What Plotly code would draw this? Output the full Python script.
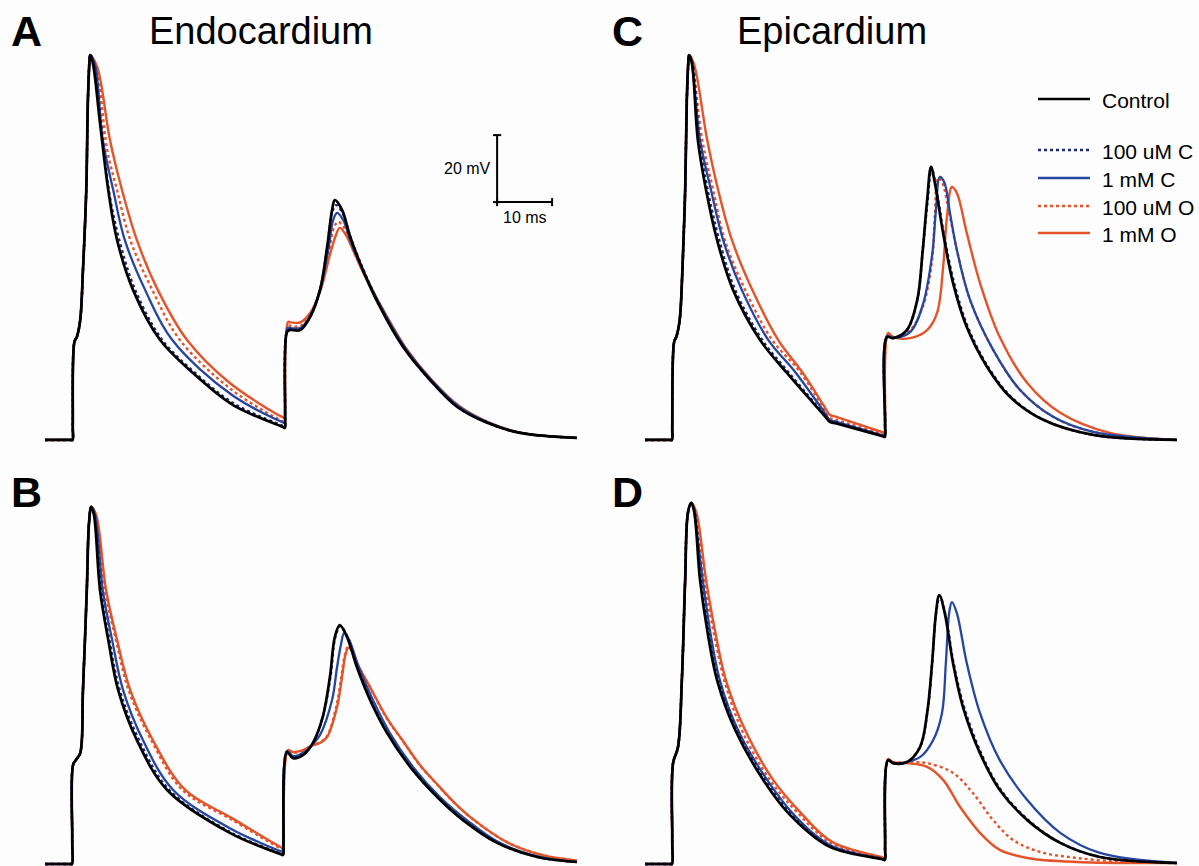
import plotly.graph_objects as go

# ---------------- data (time in ms, membrane potential in mV) ----------------
# Panel A : Endocardium, top
A_up_t = [0.0, 4.7, 5.0, 5.05, 5.35, 5.8, 6.4, 6.9, 7.5, 7.8, 8.1]
A_up_v = [-85.0, -85.0, -85.0, -80.8, -55.7, -54.2, -49.2, -34.3, -10.4, 16.5, 28.4]
A_ctl_t = [8.2, 8.7, 10.0, 11.5, 13.1, 16.0, 20.9, 26.9, 34.2, 43.2, 43.6, 43.65, 44.0, 44.5, 46.4, 48.2, 50.0, 51.3, 52.2, 52.7, 54.0, 55.5, 57.8, 60.9, 65.1, 70.0, 74.9, 80.4, 86.4, 96.7]
A_ctl_v = [29.9, 27.5, 9.6, -10.4, -25.3, -40.2, -55.1, -65.0, -74.6, -81.1, -81.4, -77.8, -52.8, -52.2, -52.2, -48.3, -40.2, -27.4, -16.3, -13.4, -16.3, -24.4, -34.3, -45.3, -57.2, -67.1, -75.1, -79.9, -82.9, -84.4]
A_bd_t = [8.3, 8.9, 10.2, 11.6, 13.5, 16.4, 21.3, 27.3, 34.2, 43.2, 43.6, 43.65, 44.0, 44.5, 46.4, 48.2, 50.0, 51.3, 52.2, 52.9, 54.0, 55.6, 58.0, 61.1, 65.2, 70.1, 75.0, 80.5, 86.4, 96.7]
A_bd_v = [29.9, 27.3, 9.6, -10.4, -25.3, -40.2, -55.1, -65.0, -74.0, -80.8, -81.1, -77.5, -52.5, -52.0, -52.0, -48.3, -40.2, -27.7, -17.2, -14.9, -16.9, -24.7, -34.6, -45.6, -57.4, -67.2, -75.1, -79.9, -82.9, -84.4]
A_bs_t = [8.2, 9.1, 10.5, 12.4, 14.5, 18.2, 23.1, 34.0, 43.2, 43.6, 43.65, 44.1, 44.6, 46.4, 48.2, 50.0, 51.5, 52.4, 53.1, 54.2, 55.8, 58.2, 61.3, 65.5, 70.4, 75.3, 80.7, 86.5, 96.7]
A_bs_v = [29.9, 26.9, 4.6, -10.4, -25.3, -40.2, -55.1, -71.6, -79.7, -79.9, -77.1, -51.6, -51.6, -51.6, -48.0, -40.2, -28.3, -19.3, -17.2, -19.3, -26.8, -35.7, -45.9, -57.5, -67.4, -75.1, -79.9, -82.9, -84.4]
A_od_t = [8.2, 9.3, 11.3, 13.1, 15.5, 19.5, 24.5, 34.0, 43.2, 43.6, 43.65, 44.2, 44.7, 46.4, 48.2, 50.0, 51.6, 52.5, 53.3, 54.4, 56.0, 58.4, 61.3, 65.5, 70.4, 75.3, 80.7, 86.5, 96.7]
A_od_v = [29.9, 26.6, 1.6, -10.4, -25.3, -40.2, -55.1, -70.1, -79.4, -79.6, -77.2, -50.7, -51.0, -51.0, -47.7, -40.5, -28.9, -21.7, -19.9, -21.7, -28.3, -36.6, -45.9, -57.5, -67.4, -75.1, -79.9, -82.9, -84.4]
A_os_t = [8.2, 9.5, 11.8, 14.0, 16.7, 20.5, 25.8, 33.6, 43.2, 43.6, 43.65, 44.2, 44.7, 46.4, 48.2, 50.0, 51.8, 52.9, 53.6, 54.7, 56.4, 58.5, 61.5, 65.6, 70.5, 75.5, 80.9, 86.7, 96.7]
A_os_v = [29.9, 26.3, 4.6, -10.4, -25.3, -40.2, -55.1, -68.0, -78.2, -78.4, -76.0, -49.8, -49.9, -49.9, -47.1, -40.8, -29.8, -23.8, -21.7, -23.8, -29.8, -37.2, -46.2, -57.5, -67.4, -75.1, -79.9, -82.9, -84.4]

# Panel B : Endocardium, bottom
B_up_t = [0.0, 4.6, 4.9, 4.95, 5.1, 5.6, 6.4, 6.9, 7.6, 8.0]
B_up_v = [-85.0, -85.0, -85.0, -78.0, -55.4, -54.0, -51.9, -33.1, -3.2, 16.8]
B_ctl_t = [8.4, 8.9, 10.0, 11.5, 13.3, 16.7, 22.2, 33.6, 42.9, 43.3, 43.35, 44.0, 45.1, 46.9, 48.7, 50.5, 51.8, 52.7, 53.6, 54.9, 56.7, 59.1, 62.2, 66.4, 71.3, 76.0, 82.2, 89.5, 96.7]
B_ctl_v = [21.6, 19.2, -3.2, -18.1, -33.1, -48.0, -62.9, -75.7, -82.1, -82.3, -79.0, -51.6, -53.4, -52.5, -48.9, -41.1, -29.2, -17.2, -13.7, -17.2, -26.2, -36.0, -45.9, -56.0, -65.0, -71.9, -78.7, -82.9, -84.4]
B_bd_t = [8.4, 9.0, 10.2, 11.7, 13.6, 17.1, 22.6, 33.6, 42.9, 43.3, 43.35, 44.0, 45.1, 46.9, 48.7, 50.5, 51.9, 52.8, 53.7, 55.0, 56.8, 59.2, 62.3, 66.5, 71.4, 76.1, 82.3, 89.5, 96.7]
B_bd_v = [21.6, 19.0, -3.2, -18.1, -33.1, -48.0, -62.9, -75.4, -81.9, -82.1, -78.8, -51.4, -53.2, -52.3, -48.9, -41.1, -29.2, -17.2, -14.0, -17.2, -26.2, -36.0, -45.9, -56.0, -65.0, -71.9, -78.7, -82.9, -84.4]
B_bs_t = [8.4, 9.1, 10.5, 12.2, 14.2, 17.8, 23.3, 33.6, 42.9, 43.3, 43.35, 44.0, 45.1, 46.9, 48.7, 50.0, 52.2, 53.1, 53.8, 54.4, 55.3, 57.1, 59.6, 62.7, 66.9, 71.8, 76.7, 82.7, 90.0, 96.7]
B_bs_v = [21.6, 19.2, -3.2, -18.1, -33.1, -48.0, -62.9, -74.3, -81.2, -81.4, -78.0, -51.3, -52.8, -51.9, -49.2, -46.5, -36.0, -26.2, -19.6, -16.0, -18.1, -26.5, -36.0, -45.9, -56.0, -65.0, -71.9, -78.7, -82.9, -84.4]
B_od_t = [8.4, 9.2, 10.9, 12.9, 15.2, 19.3, 25.0, 34.0, 42.9, 43.3, 43.35, 44.2, 45.1, 46.9, 48.7, 50.0, 51.3, 53.0, 53.9, 54.5, 55.1, 55.8, 56.8, 59.0, 62.1, 65.0, 68.1, 71.2, 74.4, 77.7, 83.9, 90.4, 96.7]
B_od_v = [21.6, 19.2, -3.2, -18.1, -33.1, -48.0, -62.9, -71.8, -80.4, -80.6, -77.3, -51.2, -51.8, -51.2, -49.4, -48.7, -46.8, -37.6, -28.9, -22.6, -20.2, -21.3, -25.3, -32.0, -41.4, -48.2, -55.4, -61.1, -66.7, -71.5, -78.4, -82.3, -84.0]
B_os_t = [8.4, 9.3, 11.1, 13.1, 15.5, 19.6, 25.5, 34.0, 42.9, 43.3, 43.35, 44.2, 45.1, 46.9, 48.7, 50.0, 51.3, 53.1, 54.0, 54.6, 55.2, 55.9, 56.9, 59.1, 62.2, 65.1, 68.2, 71.3, 74.5, 77.8, 84.0, 90.5, 96.7]
B_os_v = [21.6, 19.2, -3.2, -18.1, -33.1, -48.0, -62.9, -71.3, -80.0, -80.2, -76.9, -51.0, -51.6, -51.0, -49.5, -48.9, -47.1, -38.1, -29.2, -22.8, -20.4, -21.5, -25.5, -32.2, -41.5, -48.3, -55.5, -61.2, -66.8, -71.6, -78.5, -82.4, -84.0]

# Panel C : Epicardium, top
C_up_t = [0.0, 4.6, 4.9, 4.95, 5.3, 5.7, 6.3, 6.8, 7.3, 7.6, 7.9]
C_up_v = [-85.0, -85.0, -85.0, -81.3, -55.7, -54.2, -49.2, -34.3, -10.4, 16.5, 28.4]
C_ctl_t = [8.0, 8.5, 9.6, 11.1, 13.1, 16.0, 20.9, 25.8, 32.6, 33.6, 34.8, 43.2, 43.6, 43.65, 44.0, 45.1, 47.6, 49.5, 50.5, 51.3, 52.0, 52.7, 54.2, 56.0, 58.5, 62.2, 66.4, 72.4, 81.5, 96.7]
C_ctl_v = [29.9, 27.8, 4.6, -10.4, -25.3, -40.2, -55.1, -65.0, -77.7, -79.6, -80.1, -83.9, -84.1, -80.5, -54.3, -54.6, -52.2, -43.2, -28.3, -13.4, -3.5, -8.3, -23.2, -38.1, -51.3, -63.2, -72.2, -79.0, -83.5, -85.0]
C_bd_t = [8.0, 8.6, 9.9, 11.4, 13.5, 16.4, 21.3, 26.2, 32.6, 33.6, 34.8, 43.2, 43.6, 43.65, 44.0, 45.1, 47.6, 49.5, 50.5, 51.4, 52.1, 52.8, 54.3, 56.2, 58.7, 62.4, 66.6, 72.5, 81.5, 96.7]
C_bd_v = [29.9, 27.6, 4.6, -10.4, -25.3, -40.2, -55.1, -65.0, -77.4, -79.3, -79.8, -83.7, -83.9, -80.3, -54.3, -54.6, -52.2, -43.2, -28.3, -13.4, -3.8, -8.5, -23.2, -38.1, -51.3, -63.2, -72.2, -79.0, -83.5, -85.0]
C_bs_t = [8.0, 8.4, 10.0, 12.0, 14.2, 17.6, 22.4, 27.3, 32.6, 33.6, 34.8, 43.2, 43.6, 43.65, 44.0, 45.1, 48.2, 50.5, 52.2, 52.9, 53.6, 54.4, 55.5, 56.7, 59.1, 63.3, 68.2, 74.2, 81.5, 96.7]
C_bs_v = [29.9, 28.4, 4.6, -10.4, -25.3, -40.2, -55.1, -64.7, -76.7, -79.0, -79.6, -83.6, -83.8, -80.2, -54.0, -54.6, -52.8, -44.7, -29.8, -16.3, -6.5, -8.0, -17.8, -28.3, -43.2, -58.1, -70.1, -78.1, -82.6, -85.0]
C_od_t = [8.0, 8.5, 10.4, 12.4, 14.5, 18.2, 23.1, 28.2, 32.6, 33.6, 34.8, 43.2, 43.6, 43.65, 44.2, 45.1, 48.2, 50.5, 52.2, 52.7, 53.3, 54.0, 55.3, 56.7, 59.1, 63.3, 68.2, 74.2, 81.5, 96.7]
C_od_v = [29.9, 28.1, 4.6, -10.4, -25.3, -40.2, -55.1, -64.7, -75.9, -78.4, -79.0, -83.3, -83.5, -79.9, -53.4, -54.3, -52.2, -45.3, -31.3, -17.8, -6.8, -8.0, -17.2, -28.3, -43.2, -58.1, -70.1, -78.1, -82.6, -85.0]
C_os_t = [8.0, 8.9, 11.3, 13.3, 15.8, 19.5, 24.2, 28.7, 32.6, 33.6, 34.8, 43.2, 43.6, 43.65, 44.2, 45.1, 48.2, 51.3, 53.1, 54.2, 54.9, 55.8, 56.7, 58.5, 60.9, 64.5, 69.5, 75.5, 84.5, 96.7]
C_os_v = [29.9, 27.2, 4.6, -10.4, -25.3, -40.2, -55.1, -65.0, -75.0, -77.5, -78.1, -82.7, -82.9, -79.3, -53.1, -54.3, -54.6, -52.2, -47.1, -33.4, -18.4, -9.5, -11.3, -23.2, -38.1, -54.3, -68.0, -76.9, -82.9, -85.0]

# Panel D : Epicardium, bottom
D_up_t = [0.0, 4.6, 4.9, 4.95, 5.1, 6.0, 6.7, 7.3, 7.8]
D_up_v = [-85.0, -85.0, -85.0, -78.0, -54.9, -50.1, -30.1, -0.2, 19.8]
D_ctl_t = [8.4, 8.9, 10.0, 11.3, 13.1, 16.4, 21.5, 26.4, 33.6, 43.2, 43.6, 43.65, 44.2, 45.1, 47.6, 50.0, 51.3, 52.2, 52.9, 53.5, 54.5, 56.0, 57.8, 60.9, 64.5, 69.5, 75.5, 82.7, 96.7]
D_ctl_v = [22.8, 20.7, -0.2, -15.1, -30.1, -45.0, -59.9, -70.4, -79.9, -83.6, -83.8, -80.0, -54.0, -54.9, -54.6, -50.1, -39.9, -25.0, -10.1, -4.7, -10.1, -25.0, -38.1, -51.9, -62.9, -71.9, -78.7, -82.9, -84.7]
D_bd_t = [8.4, 9.0, 10.2, 11.5, 13.4, 16.8, 21.9, 26.8, 33.6, 43.2, 43.6, 43.65, 44.2, 45.1, 47.6, 50.0, 51.3, 52.2, 52.9, 53.6, 54.6, 56.1, 58.0, 61.1, 64.7, 69.7, 75.6, 82.8, 96.7]
D_bd_v = [22.8, 20.5, -0.2, -15.1, -30.1, -45.0, -59.9, -70.4, -79.6, -83.4, -83.6, -79.8, -54.0, -54.9, -54.6, -50.1, -40.2, -25.3, -10.4, -5.0, -10.4, -25.0, -38.1, -51.9, -62.9, -71.9, -78.7, -82.9, -84.7]
D_bs_t = [8.4, 8.7, 10.5, 11.8, 13.6, 16.9, 22.2, 27.3, 33.6, 43.2, 43.6, 43.65, 44.2, 45.1, 50.0, 52.4, 54.0, 54.7, 55.3, 55.8, 56.7, 58.5, 60.9, 64.5, 69.5, 75.5, 82.7, 96.7]
D_bs_v = [22.8, 21.9, -0.2, -15.1, -30.1, -45.0, -59.9, -70.7, -79.3, -83.6, -83.8, -80.0, -54.0, -54.9, -53.1, -48.0, -39.9, -25.0, -10.1, -6.8, -10.1, -25.0, -39.9, -54.0, -65.9, -75.7, -81.7, -84.7]
D_od_t = [8.4, 9.1, 10.7, 12.4, 14.4, 17.6, 22.7, 27.8, 33.8, 43.2, 43.6, 43.65, 44.2, 45.1, 48.2, 51.3, 56.0, 59.6, 63.3, 66.9, 71.8, 78.5, 87.6, 96.7]
D_od_v = [22.8, 20.4, -0.2, -15.1, -30.1, -45.0, -59.9, -69.8, -78.7, -83.3, -83.5, -79.7, -54.0, -54.6, -54.6, -54.9, -57.8, -63.8, -71.9, -77.8, -81.4, -83.2, -84.4, -84.7]
D_os_t = [8.4, 9.3, 11.1, 12.7, 14.7, 18.2, 23.3, 28.2, 34.0, 43.2, 43.6, 43.65, 44.2, 45.1, 47.6, 51.3, 54.2, 57.3, 60.9, 64.5, 69.5, 78.5, 96.7]
D_os_v = [22.8, 20.1, -0.2, -15.1, -30.1, -45.0, -59.9, -69.5, -78.4, -83.0, -83.2, -79.4, -53.7, -54.6, -54.9, -56.0, -59.9, -68.0, -75.7, -80.8, -83.2, -84.4, -84.7]

# drawing order: bottom -> top
series_names = ["1 mM O", "100 uM O", "1 mM C", "100 uM C", "Control"]
series_keys = ["os", "od", "bs", "bd", "ctl"]
series_colors = ["#E4532A", "#E4532A", "#2446A0", "#1B2A7E", "#000000"]
series_dash = ["solid", "dot", "solid", "dot", "solid"]
series_width = [2.4, 2.4, 2.3, 2.4, 2.7]

# legend (top to bottom)
legend_names = ["Control", "100 uM C", "1 mM C", "100 uM O", "1 mM O"]
legend_keys = ["ctl", "bd", "bs", "od", "os"]

# Scale bar (drawn in panel A coordinates)
SCALE_MV = 20
SCALE_MS = 10
scale_t0, scale_v0 = 82.2, -14.0

panel_letters = ["A", "B", "C", "D"]
panel_titles = ["Endocardium", "Epicardium"]

# ---------------- figure ----------------
W, H = 1199, 866
data = globals()
FONT = "Liberation Sans, Arial, Helvetica, sans-serif"


def ydom(top_px, bottom_px):
    return [1 - bottom_px / H, 1 - top_px / H]


panels = {
    "A": dict(xa="x", ya="y", xdom=[40 / W, 590 / W], ydom=ydom(45, 452), yr=[-88.6, 32.9]),
    "B": dict(xa="x2", ya="y2", xdom=[40 / W, 590 / W], ydom=ydom(495, 866), yr=[-85.6, 25.15]),
    "C": dict(xa="x3", ya="y3", xdom=[640 / W, 1190 / W], ydom=ydom(45, 452), yr=[-88.6, 32.9]),
    "D": dict(xa="x4", ya="y4", xdom=[640 / W, 1190 / W], ydom=ydom(495, 866), yr=[-85.6, 25.15]),
}

fig = go.Figure()
for p, cfg in panels.items():
    up_t, up_v = data[p + "_up_t"], data[p + "_up_v"]
    for name, key, col, dash, lw in zip(series_names, series_keys, series_colors,
                                        series_dash, series_width):
        t = up_t + data[f"{p}_{key}_t"]
        v = up_v + data[f"{p}_{key}_v"]
        fig.add_trace(go.Scatter(
            x=t, y=v, mode="lines", name=name,
            line=dict(color=col, width=lw, dash=dash, shape="spline", smoothing=1.0),
            xaxis=cfg["xa"], yaxis=cfg["ya"], showlegend=False, hoverinfo="skip",
        ))

axis_common = dict(visible=False, showgrid=False, zeroline=False, fixedrange=True)
layout_axes = {}
for i, (p, cfg) in enumerate(panels.items()):
    sfx = "" if i == 0 else str(i + 1)
    layout_axes["xaxis" + sfx] = dict(domain=cfg["xdom"], range=[-0.91, 99.09],
                                      anchor="y" + sfx, **axis_common)
    layout_axes["yaxis" + sfx] = dict(domain=cfg["ydom"], range=cfg["yr"],
                                      anchor="x" + sfx, **axis_common)

# scale bar shapes
sb = dict(type="line", xref="x", yref="y", line=dict(color="black", width=2))
shapes = [
    dict(sb, x0=scale_t0, x1=scale_t0, y0=scale_v0, y1=scale_v0 + SCALE_MV),
    dict(sb, x0=scale_t0, x1=scale_t0 + SCALE_MS, y0=scale_v0, y1=scale_v0),
    dict(sb, x0=scale_t0 - 0.75, x1=scale_t0 + 0.75, y0=scale_v0 + SCALE_MV, y1=scale_v0 + SCALE_MV),
    dict(sb, x0=scale_t0 - 0.75, x1=scale_t0 + 0.75, y0=scale_v0, y1=scale_v0),
    dict(sb, x0=scale_t0, x1=scale_t0, y0=scale_v0 - 1.2, y1=scale_v0 + 1.2),
    dict(sb, x0=scale_t0 + SCALE_MS, x1=scale_t0 + SCALE_MS, y0=scale_v0 - 1.2, y1=scale_v0 + 1.2),
]

annotations = [
    dict(text=f"{SCALE_MV} mV", xref="x", yref="y", x=scale_t0 - 0.8, y=scale_v0 + SCALE_MV / 2,
         xanchor="right", yanchor="middle", showarrow=False, font=dict(size=16, color="black", family=FONT)),
    dict(text=f"{SCALE_MS} ms", xref="x", yref="y", x=scale_t0 + SCALE_MS / 2, y=scale_v0 - 4.6,
         xanchor="center", yanchor="middle", showarrow=False, font=dict(size=16, color="black", family=FONT)),
]

# legend drawn as line samples + text (paper coordinates)
legend_rows_px = [99, 150, 178, 206, 233]
for name, key, ypx in zip(legend_names, legend_keys, legend_rows_px):
    i = series_keys.index(key)
    shapes.append(dict(type="line", xref="paper", yref="paper",
                       x0=1038 / W, x1=1090 / W, y0=1 - ypx / H, y1=1 - ypx / H,
                       line=dict(color=series_colors[i], width=2.4, dash=series_dash[i])))
    annotations.append(dict(text=name, xref="paper", yref="paper", x=1100 / W, y=1 - (ypx + 1) / H,
                            xanchor="left", yanchor="middle", showarrow=False,
                            font=dict(size=21, color="black", family=FONT)))

letter_pos = {"A": (26, 31), "B": (26, 492), "C": (627, 31), "D": (627, 492)}
for L in panel_letters:
    x, y = letter_pos[L]
    annotations.append(dict(text=f"<b>{L}</b>", xref="paper", yref="paper", x=x / W, y=1 - y / H,
                            xanchor="center", yanchor="middle", showarrow=False,
                            font=dict(size=43, color="black", family=FONT)))
for title, cx in zip(panel_titles, [261, 832]):
    annotations.append(dict(text=title, xref="paper", yref="paper", x=cx / W, y=1 - 31 / H,
                            xanchor="center", yanchor="middle", showarrow=False,
                            font=dict(size=38, color="black", family=FONT)))

fig.update_layout(
    width=W, height=H,
    margin=dict(l=0, r=0, t=0, b=0),
    paper_bgcolor="#fdfdfd", plot_bgcolor="rgba(0,0,0,0)",
    shapes=shapes, annotations=annotations,
    showlegend=False,
    **layout_axes,
)

fig.write_html("out.html", config={"displayModeBar": False},
               post_script="document.body.style.margin='0';document.body.style.overflow='hidden';")
